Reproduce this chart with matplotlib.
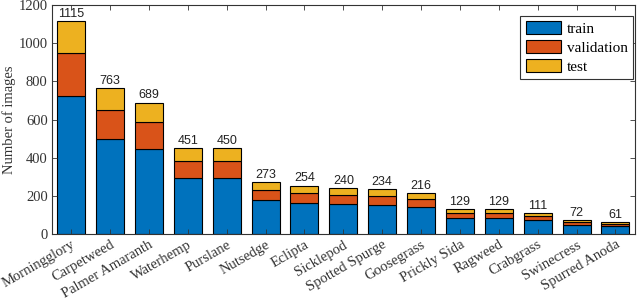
import numpy as np
import matplotlib
matplotlib.use("Agg")
import matplotlib.pyplot as plt

species = ["Morningglory", "Carpetweed", "Palmer Amaranth", "Waterhemp", "Purslane",
           "Nutsedge", "Eclipta", "Sicklepod", "Spotted Spurge", "Goosegrass",
           "Prickly Sida", "Ragweed", "Crabgrass", "Swinecress", "Spurred Anoda"]
train = [725, 496, 448, 293, 293, 177, 165, 156, 152, 140, 84, 84, 72, 47, 40]
validation = [223, 153, 138, 90, 90, 55, 51, 48, 47, 43, 26, 26, 22, 14, 12]
test = [167, 114, 103, 68, 67, 41, 38, 36, 35, 33, 19, 19, 17, 11, 9]

train = np.array(train)
validation = np.array(validation)
test = np.array(test)
totals = train + validation + test

serif = ["Liberation Serif", "DejaVu Serif"]
sans = ["Liberation Sans", "DejaVu Sans"]
grey = "#333333"

fig = plt.figure(figsize=(6.4, 3.0), dpi=100)
ax = fig.add_axes([0.081, 0.22, 0.911, 0.763])

x = np.arange(1, len(species) + 1)
w = 0.72
kw = dict(width=w, edgecolor="black", linewidth=0.8)
ax.bar(x, train, color="#0072BD", label="train", **kw)
ax.bar(x, validation, bottom=train, color="#D95319", label="validation", **kw)
ax.bar(x, test, bottom=train + validation, color="#EDB120", label="test", **kw)

for xi, t in zip(x, totals):
    ax.text(xi, t + 6, str(t), ha="center", va="bottom", fontsize=9, family=sans,
            color="#222222")

ax.set_xlim(0.5, 15.5)
ax.set_ylim(0, 1200)
ax.set_yticks(np.arange(0, 1201, 200))
ax.set_xticks(x)
ax.set_xticklabels(species, rotation=30, ha="right", rotation_mode="anchor",
                   family=serif, fontsize=10.5)
for lbl in ax.get_yticklabels():
    lbl.set_family(serif)
    lbl.set_fontsize(10.5)
    lbl.set_color(grey)
ax.set_ylabel("Number of images", family=serif, fontsize=10.5, color=grey, labelpad=2)
ax.tick_params(direction="in", top=True, right=True, length=3.5, width=0.6,
               colors=grey, pad=3)
for s in ax.spines.values():
    s.set_linewidth(0.8)
    s.set_color(grey)

leg = ax.legend(loc="upper right", bbox_to_anchor=(0.997, 0.952),
                prop={"family": serif, "size": 11},
                fancybox=False, edgecolor=grey, framealpha=1,
                handlelength=2.3, handleheight=0.85, borderpad=0.35,
                labelspacing=0.3, handletextpad=0.4, borderaxespad=0)
leg.get_frame().set_linewidth(0.8)

plt.savefig("out.png", dpi=100)
plt.close()
